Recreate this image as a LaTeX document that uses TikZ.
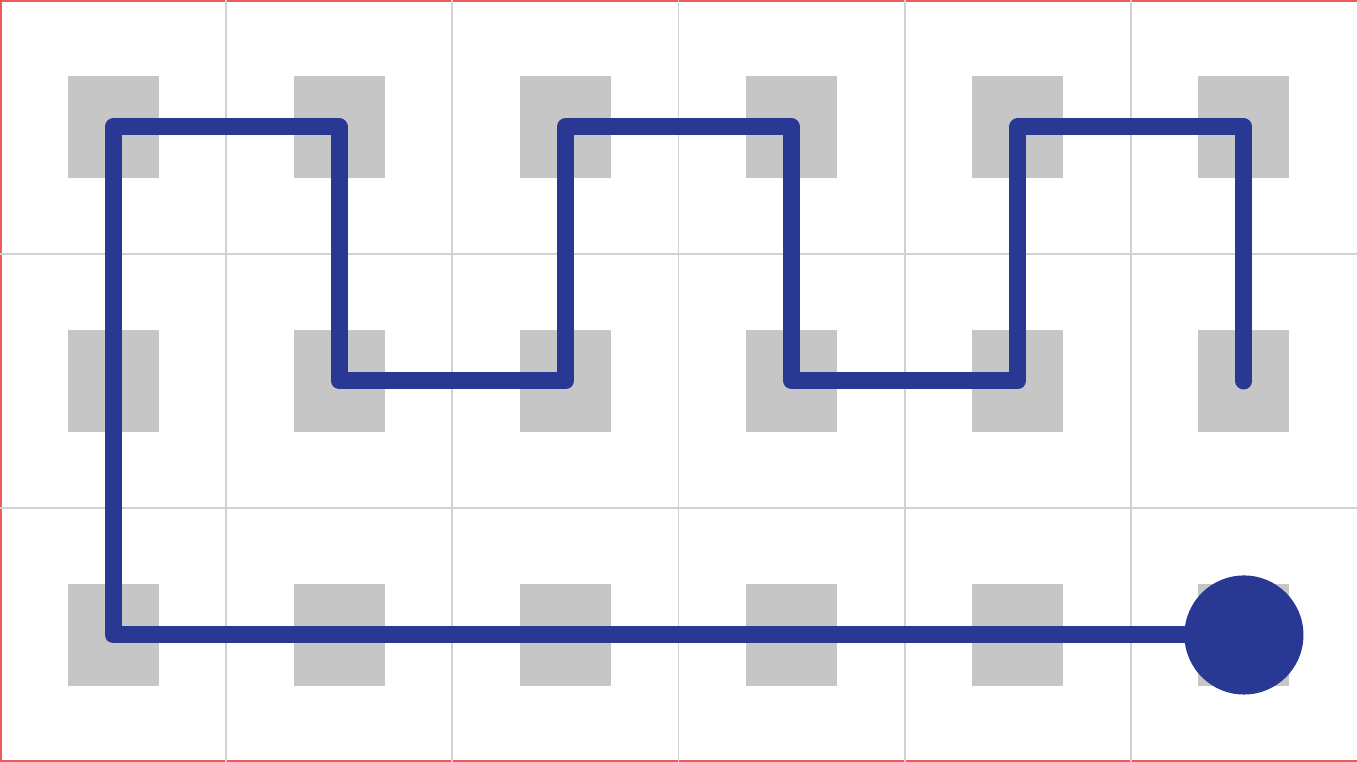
\documentclass[tikz,border=0pt]{standalone}
\usepackage{tikz}
\usetikzlibrary{positioning}
\definecolor{PathColor}{RGB}{40,56,147}
\definecolor{CellColor}{RGB}{198,198,198}
\definecolor{FrameColor}{RGB}{236,90,90}

\begin{document}
\begin{tikzpicture}[x=0.01cm, y=-0.01cm, line cap=round, line join=round,
    cell/.style={fill=CellColor, minimum width=0.91cm, minimum height=1.02cm, inner sep=0pt},
    walk/.style={PathColor, line width=0.17cm},
    enddot/.style={circle, fill=PathColor, minimum size=1.19cm, inner sep=0pt}]
    \def\cw{226.17} \def\ch{254}
    \useasboundingbox (0,0) rectangle (1357,762);
    % Frame
    \draw[FrameColor, line width=0.6pt] (1357,0.5) -- (0.5,0.5) -- (0.5,761.5) -- (1357,761.5);
    % Grid
    \foreach \i in {1,...,5} {\draw[gray!35, line width=0.5pt] (\i*\cw, 0) -- (\i*\cw, 762);}
    \foreach \j in {1,2} {\draw[gray!35, line width=0.5pt] (0, \j*\ch) -- (1357, \j*\ch);}
    % Cells
    \foreach \i in {1,...,6} {
        \foreach \j in {1,2,3} {
            \node[cell] (c\i\j) at ({(\i-0.5)*\cw}, {(\j-0.5)*\ch}) {};
        }
    }
    % Walk
    \node[enddot] (end) at (c63) {};
    \draw[walk] (c62.center) -- (c61.center) -- (c51.center) -- (c52.center)
        -- (c42.center) -- (c41.center) -- (c31.center) -- (c32.center)
        -- (c22.center) -- (c21.center) -- (c11.center) -- (c13.center) -- (end);
\end{tikzpicture}
\end{document}
